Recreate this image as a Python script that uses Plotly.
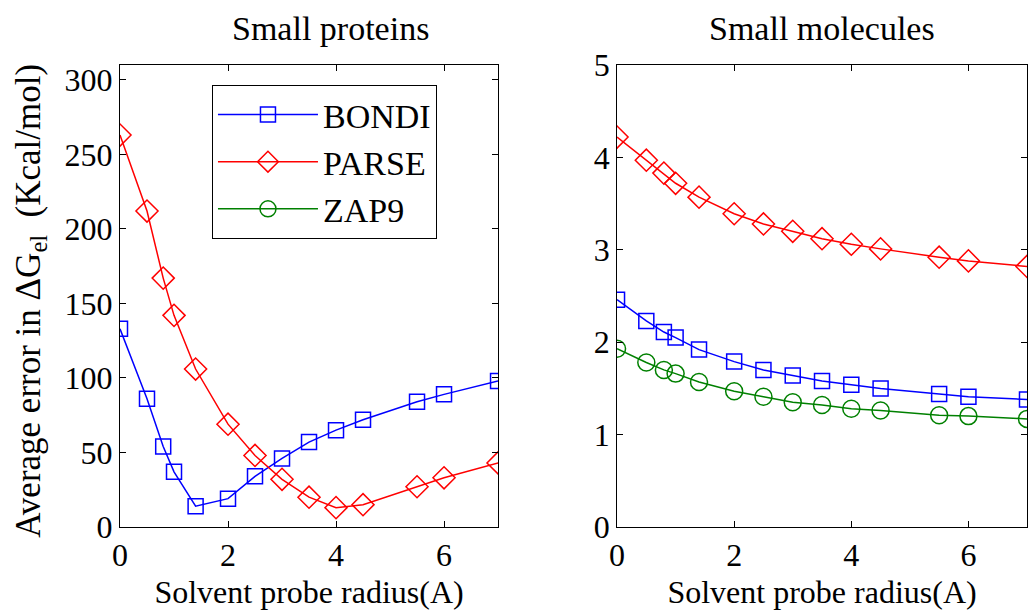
import plotly.graph_objects as go
from plotly.subplots import make_subplots

radius = [0, 0.5, 0.8, 1.0, 1.4, 2, 2.5, 3, 3.5, 4, 4.5, 5.5, 6, 7]

prot_bondi = [133, 86, 54, 37, 14, 19, 34, 46, 57, 65, 72, 84, 89, 98]
prot_parse = [263, 212, 167, 142, 106, 69, 48, 32, 20, 13, 15, 27, 33, 43]

mol_bondi = [2.46, 2.23, 2.11, 2.05, 1.92, 1.79, 1.70, 1.64, 1.58, 1.54, 1.50, 1.44, 1.41, 1.38]
mol_parse = [4.22, 3.97, 3.83, 3.72, 3.57, 3.39, 3.28, 3.20, 3.12, 3.06, 3.01, 2.92, 2.88, 2.82]
mol_zap9 = [1.93, 1.78, 1.70, 1.66, 1.57, 1.47, 1.41, 1.35, 1.32, 1.28, 1.26, 1.21, 1.20, 1.17]

titles = ["Small proteins", "Small molecules"]
xlabel = "Solvent probe radius(A)"
ylabel = "Average error in ΔG<sub>el</sub>  (Kcal/mol)"

BLUE, RED, GREEN = "#0000ff", "#ff0000", "#008000"
FONT = "Liberation Serif"

fig = make_subplots(rows=1, cols=2, horizontal_spacing=0.13)

def add(x, y, name, color, symbol, size, col, show):
    fig.add_trace(go.Scatter(
        x=x, y=y, name=name, mode="lines+markers",
        line=dict(color=color, width=1.5),
        marker=dict(symbol=symbol, size=size, color=color, line=dict(color=color, width=1.5)),
        showlegend=show), row=1, col=col)

add(radius, prot_bondi, "BONDI", BLUE, "square-open", 15, 1, True)
add(radius, prot_parse, "PARSE", RED, "diamond-open", 17, 1, True)
add(radius, mol_bondi, "BONDI", BLUE, "square-open", 15, 2, False)
add(radius, mol_parse, "PARSE", RED, "diamond-open", 17, 2, False)
add(radius, mol_zap9, "ZAP9", GREEN, "circle-open", 17, 2, True)

axis_common = dict(showline=True, linecolor="black", linewidth=1, mirror="ticks",
                   ticks="inside", ticklen=6, tickcolor="black", showgrid=False,
                   zeroline=False, tickfont=dict(family=FONT, size=32, color="black"))

fig.update_xaxes(range=[0, 7], dtick=2, tick0=0, **axis_common)
fig.update_xaxes(title=dict(text=xlabel, font=dict(family=FONT, size=32, color="black"), standoff=8))
fig.update_yaxes(**axis_common)
fig.update_yaxes(range=[0, 310], tickvals=[0, 50, 100, 150, 200, 250, 300], row=1, col=1)
fig.update_yaxes(range=[0, 5], dtick=1, row=1, col=2)

fig.update_layout(
    width=1035, height=612,
    margin=dict(l=120, r=8, t=65, b=85),
    plot_bgcolor="white", paper_bgcolor="white",
    font=dict(family=FONT, size=32, color="black"),
    legend=dict(x=0.1014, y=0.957, xanchor="left", yanchor="top",
                bordercolor="black", borderwidth=1, bgcolor="white",
                font=dict(family=FONT, size=34, color="black"),
                tracegroupgap=0, itemwidth=100),
    xaxis=dict(domain=[0, 0.4168]),
    xaxis2=dict(domain=[0.548, 1]),
)

fig.add_annotation(text=titles[0], x=0.2326, y=1.08, xref="paper", yref="paper",
                   xanchor="center", yanchor="middle",
                   showarrow=False, font=dict(family=FONT, size=34, color="black"))
fig.add_annotation(text=titles[1], x=0.774, y=1.08, xref="paper", yref="paper",
                   xanchor="center", yanchor="middle",
                   showarrow=False, font=dict(family=FONT, size=34, color="black"))
fig.add_annotation(text=ylabel, x=-0.099, y=0.49, xref="paper", yref="paper",
                   xanchor="center", yanchor="middle", textangle=-90,
                   showarrow=False, font=dict(family=FONT, size=35, color="black"))

fig.write_html("out.html")
